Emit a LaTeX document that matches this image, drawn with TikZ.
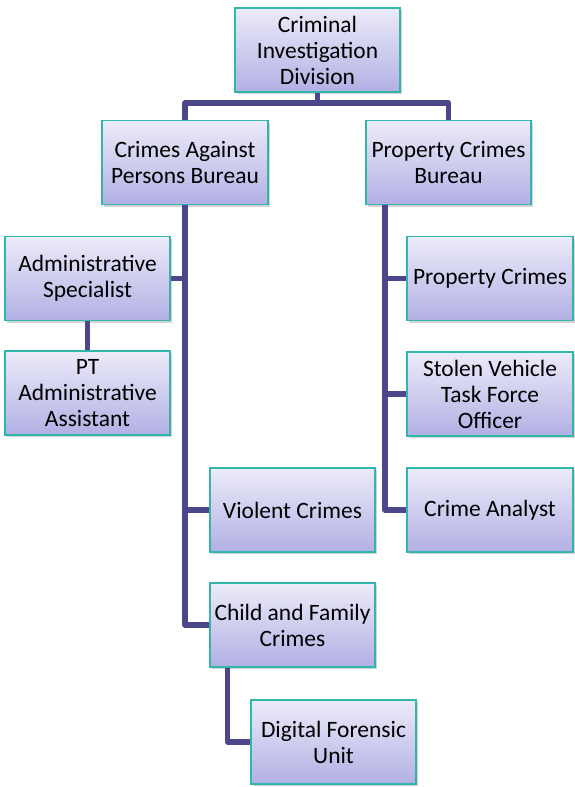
\documentclass[tikz,border=0pt]{standalone}
\usepackage{fontspec}
\setmainfont{Carlito}
\usetikzlibrary{shadows}
\definecolor{boxtop}{RGB}{236,235,249}
\definecolor{boxbottom}{RGB}{178,176,228}
\definecolor{boxline}{RGB}{48,182,170}
\definecolor{linkcol}{RGB}{76,71,138}
\newcommand{\boxw}{124pt}
\newcommand{\boxh}{63pt}

\begin{document}
\begin{tikzpicture}[x=0.75pt,y=-0.75pt]
    \useasboundingbox (0,0) rectangle (574,787);
    \begin{scope}[every node/.style={rectangle,draw=boxline,line width=1.3pt,
        top color=boxtop,bottom color=boxbottom,
        drop shadow={opacity=0.35,shadow xshift=1.5pt,shadow yshift=-1.8pt},
        minimum width=\boxw,minimum height=\boxh,inner sep=2pt,
        align=center,font=\fontsize{17.6}{19.5}\selectfont}]
        \node (cid) at (317.5,50) {Criminal\\Investigation\\Division};
        \node (capb) at (185,162.5) {Crimes Against\\Persons Bureau};
        \node (pcb) at (448.5,162.5) {Property Crimes\\Bureau};
        \node (as) at (87.5,278.5) {Administrative\\Specialist};
        \node (pt) at (87.5,393) {PT\\Administrative\\Assistant};
        \node (vc) at (292.5,510) {Violent Crimes};
        \node (cfc) at (292.5,625) {Child and Family\\Crimes};
        \node (dfu) at (333.5,742) {Digital Forensic\\Unit};
        \node (pc) at (490,278.5) {Property Crimes};
        \node (svt) at (490,394) {Stolen Vehicle\\Task Force\\Officer};
        \node (ca) at (490,510) {Crime Analyst};
    \end{scope}

    \begin{scope}[on background layer/.try,
        every path/.style={draw=linkcol,line width=3.8pt,line join=round}]
        \coordinate (bar) at (0,103);
        \coordinate (pspine) at (385,205);
        \draw (cid.south) -- (cid.south |- bar);
        \draw (capb.north) |- (bar -| cid.south) -| (pcb.north);

        \draw (capb.south) |- (as.east);
        \draw (capb.south) |- (vc.west);
        \draw (capb.south) |- (cfc.west);
        \draw (as.south) -- (pt.north);
        \draw ([xshift=14pt]cfc.south west) |- (dfu.west);

        \draw (pspine) |- (pc.west);
        \draw (pspine) |- (svt.west);
        \draw (pspine) |- (ca.west);
    \end{scope}
\end{tikzpicture}
\end{document}
